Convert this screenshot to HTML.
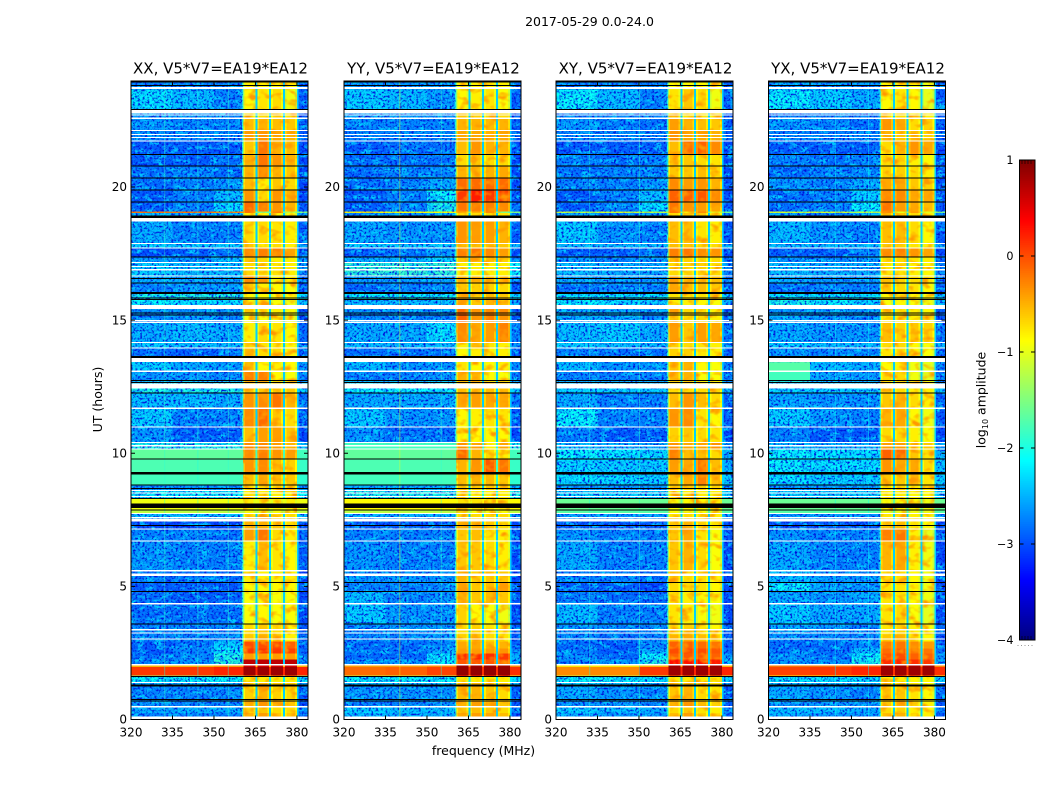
<!DOCTYPE html>
<html lang="en">
<head>
<meta charset="utf-8">
<title>2017-05-29 0.0-24.0</title>
<style>
html,body{margin:0;padding:0;background:#fff;}
#chart{display:block;width:1050px;height:800px;font-family:"DejaVu Sans","Liberation Sans",sans-serif;fill:#000;}
</style>
</head>
<body>
<svg id="chart" xmlns="http://www.w3.org/2000/svg" width="1050" height="800" viewBox="0 0 1050 800">
<defs>
<filter id="mottle-blue" x="0" y="0" width="100%" height="100%" color-interpolation-filters="sRGB">
<feTurbulence type="fractalNoise" baseFrequency="0.42 0.5" numOctaves="2" seed="4"/>
<feColorMatrix type="matrix" values="0 0 0 0 0  0 0 0 0 0.05  0 0 0 0 0.85  3.5 0 0 0 -1.65"/>
</filter>
<filter id="mottle-cyan" x="0" y="0" width="100%" height="100%" color-interpolation-filters="sRGB">
<feTurbulence type="fractalNoise" baseFrequency="0.11 0.22" numOctaves="3" seed="11"/>
<feColorMatrix type="matrix" values="0 0 0 0 0  0 0 0 0 0.8  0 0 0 0 1  3.5 0 0 0 -1.62"/>
</filter>
<filter id="mottle-band" x="0" y="0" width="100%" height="100%" color-interpolation-filters="sRGB">
<feTurbulence type="fractalNoise" baseFrequency="0.1 0.14" numOctaves="2" seed="7"/>
<feColorMatrix type="matrix" values="0 0 0 0 1  0 0 0 0 0.6  0 0 0 0 0  3.5 0 0 0 -1.72"/>
</filter>
</defs>
<text x="589.5" y="26" text-anchor="middle" font-size="12.5">2017-05-29 0.0-24.0</text>
<text x="483.5" y="755" text-anchor="middle" font-size="12.5">frequency (MHz)</text>
<text transform="translate(102,399.5) rotate(-90)" text-anchor="middle" font-size="12.5">UT (hours)</text>
<text transform="translate(985.5,400) rotate(-90)" text-anchor="middle" font-size="12.5">log<tspan font-size="8" dy="2.5">10</tspan><tspan dy="-2.5"> amplitude</tspan></text>
<g id="panels"></g>
<g id="colorbar"></g>
</svg>
<script>
// ---- axis categories and ticks ----
const xTicks = [320, 335, 350, 365, 380];
const yTicks = [0, 5, 10, 15, 20];
const cbarTicks = [1, 0, -1, -2, -3, -4];
const freqEdges = [320, 335, 350, 360.5];
const blockEdges = [[360.5, 365], [365.6, 370], [370.6, 375], [375.6, 380]];
const slitFreqs = [365, 370, 375, 380];
const slitLevel = -2.35;
const blockEdgeDrop = 0.22;
const panelNames = ['XX', 'YY', 'XY', 'YX'];

// ---- time edges of the heatmap rows (hours UT) ----
const timeEdges = [0,.25,.46,.7,1.24,1.4,1.6,1.65,1.97,2.05,2.25,2.48,2.67,2.93,3.2,3.56,4.32,4.8,5.12,5.6,6.7,7.13,7.44,7.72,7.85,8.3,8.58,8.78,9.21,9.76,10.14,10.38,10.96,11.67,12.24,12.7,13.06,13.42,13.93,14.14,14.9,15.25,15.41,15.75,15.98,16.38,16.63,17.14,17.35,17.68,17.85,18.7,18.85,19.03,19.07,19.41,19.86,20.32,20.76,21.2,21.7,22.1,22.56,22.9,23.67,23.92,24];

// ---- masked rows ----
const whiteGaps = [[0,.11],[.46,.04],[1.37,.04],[2.03,.05],[3,.04],[3.23,.04],[3.35,.04],[4.32,.05],[5.39,.1],[5.56,.05],[6.69,.04],[7.13,.05],[7.44,.1],[7.57,.04],[7.72,.04],[8.36,.04],[8.48,.04],[8.58,.04],[10.14,.04],[10.26,.04],[10.38,.04],[10.96,.04],[11.67,.04],[12.44,.18],[13.06,.04],[13.42,.16],[13.93,.04],[14.14,.04],[14.9,.04],[14.97,.04],[15.41,.16],[16.63,.04],[16.87,.04],[17,.04],[17.14,.04],[17.68,.04],[17.85,.04],[18.7,.13],[21.7,.04],[21.84,.04],[21.95,.04],[22.1,.04],[22.56,.04],[22.68,.04],[22.76,.14],[23.68,.07]];
const blackRows = [[.67,.04],[.73,.04],[1.24,.08],[1.59,.04],[3.56,.04],[4.79,.04],[5.12,.04],[7.27,.04],[7.84,.04],[7.95,.17],[8.28,.04],[8.65,.04],[8.78,.04],[9.21,.08],[9.76,.04],[12.24,.04],[12.64,.04],[12.71,.04],[13.58,.04],[13.62,.04],[15.17,.04],[15.25,.04],[15.75,.04],[15.81,.04],[15.98,.08],[16.38,.04],[16.55,.04],[17.35,.04],[18.83,.04],[18.88,.04],[19.41,.04],[19.86,.04],[20.32,.04],[20.76,.04],[21.2,.04],[22.89,.04],[23.79,.04],[23.92,.04]];

// ---- narrow-band interference channels per panel: [freq MHz, log10 level] ----
const rfiXX = [[332,-1.9],[344,-2],[355,-1.9]];
const rfiYY = [[340,-1],[355,-1.9]];
const rfiXY = [[332,-2],[350,-1.9]];
const rfiYX = [[344,-2.1],[356,-2.1]];

// ---- log10 amplitude per row: [320-335, 335-350, 350-360.5, block1, block2, block3, block4, 380-384] ----
const valuesXX = [
[-2.7,-2.7,-2.7,-.5,-.4,-.6,-.6,-2.9],[-2.5,-2.5,-2.5,-.7,-.6,-.7,-.7,-2.7],[-2.6,-2.7,-2.7,-.5,-.35,-.5,-.6,-2.9],[-2.7,-2.7,-2.7,-.65,-.5,-.65,-.7,-2.9],[-2.5,-2.5,-2.5,-.6,-.5,-.6,-.6,-2.7],[-2.1,-2.1,-2.1,-.8,-.8,-.8,-.8,-2.2],[-1.4,-1.4,-1.4,-.2,-.2,-.2,-.2,-1.4],[.1,.1,.2,.85,.85,.85,.85,.2],[-.5,-.5,-.4,.6,.6,.6,.6,-.5],
[-2.7,-2.6,-1.9,.7,.7,.7,.7,-2.6],[-2.8,-2.7,-2,-.4,-.4,-.4,-.4,-2.8],[-2.9,-2.7,-2.1,.1,.1,.1,.05,-2.8],[-2.9,-2.8,-2.3,0,0,0,-.1,-2.9],[-2.7,-2.7,-2.6,-.6,-.5,-.6,-.8,-2.9],[-2.7,-2.7,-2.7,-.7,-.6,-.7,-.85,-2.9],[-2.8,-2.8,-2.8,-.9,-.85,-.9,-.9,-3],[-2.8,-2.9,-2.9,-.9,-.85,-.9,-.9,-3],[-2.9,-2.9,-2.9,-.85,-.85,-.85,-.85,-3],[-2.8,-2.8,-2.8,-.8,-.8,-.8,-.8,-3],
[-2.6,-2.7,-2.7,-.8,-.55,-.75,-.85,-2.9],[-2.7,-2.7,-2.8,-.4,-.2,-.7,-.8,-2.9],[-3,-3,-3,-.5,-.5,-.6,-.7,-3],[-2.4,-2.4,-2.4,-.7,-.7,-.7,-.7,-2.4],[-1.2,-1.2,-1.2,-.9,-.9,-.9,-.9,-1.2],[-.95,-.95,-.95,-.8,-.8,-.8,-.8,-.95],[-2.1,-2.1,-2.1,-.8,-.8,-.8,-.8,-2.1],[-2.6,-2.6,-2.6,-.7,-.7,-.7,-.7,-2.6],[-1.8,-1.8,-1.8,-.55,-.45,-.55,-.6,-1.9],[-1.75,-1.75,-1.75,-.35,-.3,-.55,-.65,-1.85],
[-1.65,-1.65,-1.65,-.3,-.25,-.35,-.4,-1.8],[-2,-2,-2,-.3,-.3,-.4,-.5,-2.4],[-2.6,-2.9,-2.9,-.55,-.4,-.4,-.6,-3],[-2.3,-2.7,-2.7,-.3,-.15,-.6,-.7,-2.9],[-2.4,-2.4,-2.5,-.35,-.3,-.2,-.5,-2.8],[-2,-2,-2,-.6,-.6,-.6,-.6,-2.3],[-2.6,-2.6,-2.7,-.25,-.25,-.85,-.9,-2.8],[-2.3,-2.5,-2.6,-.55,-.85,-.8,-.85,-2.7],[-2.8,-2.9,-2.8,-.55,-.7,-.7,-.8,-2.9],[-2.3,-2.4,-2.4,-.7,-.75,-.75,-.85,-2.6],
[-2.5,-2.4,-2.5,-.8,-.7,-.75,-.85,-2.8],[-2.7,-2.6,-2.7,-.9,-.9,-.9,-.95,-2.9],[-2.6,-2.6,-2.6,-.6,-.7,-.8,-.9,-2.9],[-2.1,-2.2,-2.2,-.9,-.85,-.9,-.95,-2.4],[-2,-2,-2,-.85,-.85,-.85,-.85,-2.2],[-2.7,-2.6,-2.6,-.6,-.8,-.85,-.9,-2.9],[-2.5,-2.5,-2.5,-.3,-.35,-.8,-.8,-2.8],[-2.3,-2.4,-2.4,-.7,-.7,-.75,-.8,-2.6],[-2.6,-2.6,-2.4,-.6,-.7,-.8,-.8,-2.8],[-3,-2.9,-2.8,-.3,-.25,-.25,-.45,-3],
[-2.3,-2.3,-2.3,-.6,-.8,-.7,-.8,-2.5],[-2.5,-2.7,-2.7,-.7,-.7,-.75,-.8,-2.9],[-2.3,-2.3,-2.3,-.75,-.75,-.75,-.75,-2.5],[-2.4,-2.5,-2.4,-.8,-.85,-.85,-.9,-2.7],[-.2,-.2,-.3,-.2,-1.5,-.2,-1.2,-1.5],[-2.9,-2.7,-2.2,-.15,-.25,-.35,-.5,-2.9],[-2.9,-2.7,-2.4,-.35,-.7,-.35,-.5,-3],[-2.8,-2.7,-2.6,-.55,-.8,-.6,-.7,-3],[-2.8,-2.7,-2.8,-.5,-.3,-.5,-.6,-3],[-2.9,-2.9,-2.8,-.5,-.2,-.35,-.5,-3],
[-2.9,-2.9,-2.9,-.6,-.2,-.5,-.55,-3],[-2.7,-2.7,-2.7,-.4,-.35,-.45,-.5,-2.9],[-2.6,-2.7,-2.7,-.55,-.5,-.55,-.6,-2.9],[-2.6,-2.6,-2.7,-.7,-.7,-.7,-.75,-2.9],[-2.2,-2.4,-2.7,-.85,-.75,-.7,-.95,-2.9],[-2.7,-2.7,-2.7,-.8,-.8,-.8,-.8,-2.9],[-2.3,-2.3,-2.3,-.8,-.8,-.8,-.8,-2.6]
];
const valuesYY = [
[-2.5,-2.5,-2.5,-.45,-.4,-.45,-.55,-2.9],[-2.3,-2.4,-2.4,-.6,-.55,-.6,-.7,-2.7],[-2.7,-2.7,-2.6,-.5,-.4,-.55,-.6,-2.9],[-2.6,-2.6,-2.6,-.55,-.5,-.6,-.7,-2.9],[-2.4,-2.4,-2.4,-.5,-.5,-.55,-.6,-2.7],[-2.1,-2.1,-2.1,-.8,-.8,-.8,-.8,-2.2],[-1.2,-1.2,-1.2,.2,.2,.2,.2,-1],[-.15,-.1,.05,.9,.9,.9,.9,.15],[-.4,-.4,-.3,.85,.85,.85,.85,-.3],
[-2.7,-2.6,-2.1,-.05,-.05,-.05,-.1,-2.5],[-2.8,-2.8,-2.2,.15,.2,.15,.1,-2.5],[-2.8,-2.8,-2.6,-.4,-.4,-.4,-.35,-2.7],[-2.8,-2.8,-2.7,-.45,-.45,-.55,-.5,-2.9],[-2.7,-2.7,-2.6,-.65,-.6,-.7,-.75,-2.9],[-2.7,-2.6,-2.6,-.7,-.65,-.75,-.8,-2.9],[-2.3,-2.6,-2.6,-.65,-.85,-.9,-.95,-3],[-2.4,-2.7,-2.6,-.5,-.6,-.55,-.6,-3],[-2.7,-2.7,-2.7,-.45,-.6,-.55,-.4,-3],[-2.6,-2.6,-2.6,-.5,-.65,-.6,-.6,-3],
[-2.6,-2.7,-2.7,-.6,-.6,-.7,-.8,-3],[-2.7,-2.7,-2.7,-.6,-.55,-.75,-.8,-2.9],[-2.9,-2.9,-2.9,-.5,-.5,-.6,-.7,-3],[-2.5,-2.5,-2.5,-.7,-.7,-.7,-.7,-2.6],[-1.2,-1.2,-1.2,-.9,-.9,-.9,-.9,-1.2],[-.85,-.85,-.85,-.75,-.75,-.75,-.75,-.85],[-2,-2,-2,-.8,-.8,-.8,-.8,-2],[-2.5,-2.5,-2.5,-.6,-.6,-.6,-.6,-2.5],[-1.8,-1.8,-1.8,-.55,-.5,-.55,-.6,-1.9],[-1.75,-1.75,-1.75,-.5,-.35,-.05,-.2,-1.85],
[-1.65,-1.65,-1.65,-.15,-.5,-.7,-.8,-1.8],[-1.8,-1.8,-1.8,-.35,-.45,-.8,-.45,-2],[-2.6,-2.8,-2.8,-.85,-.85,-.85,-.85,-3],[-2.3,-2.6,-2.6,-.85,-.8,-.75,-.75,-2.9],[-2.5,-2.5,-2.5,-.45,-.4,-.45,-.45,-2.8],[-2.1,-2.1,-2.1,-.55,-.55,-.55,-.55,-2.3],[-2.7,-2.7,-2.6,-.5,-.55,-.85,-.9,-2.8],[-2.4,-2.6,-2.6,-.75,-.85,-.85,-.8,-2.7],[-2.8,-2.8,-2.8,-.85,-.8,-.8,-.8,-2.9],[-2.4,-2.4,-2.4,-.8,-.75,-.75,-.8,-2.6],
[-2.5,-2.5,-2.2,-.3,-.45,-.4,-.25,-2.7],[-2.7,-2.7,-2.7,-.1,-.35,-.25,-.35,-2.9],[-2.6,-2.6,-2.6,-.15,-.35,-.3,-.3,-2.9],[-2.4,-2.4,-2.4,-.45,-.6,-.5,-.6,-2.5],[-2.1,-2.1,-2.1,-.5,-.65,-.55,-.6,-2.3],[-2.8,-2.7,-2.7,-.6,-.65,-.65,-.7,-2.9],[-2.6,-2.6,-2.5,-.5,-.5,-.55,-.6,-2.8],[-1.9,-1.9,-1.9,-.8,-.8,-.8,-.8,-2.1],[-2.5,-2.5,-2.3,-.6,-.6,-.6,-.65,-2.8],[-2.9,-2.8,-2.6,-.25,-.2,-.3,-.4,-3],
[-2.3,-2.3,-2.3,-.55,-.55,-.6,-.6,-2.5],[-2.5,-2.6,-2.6,-.35,-.4,-.4,-.5,-2.9],[-1.9,-1.9,-1.9,-.6,-.6,-.6,-.6,-2.2],[-2.7,-2.6,-2.4,-.7,-.7,-.7,-.75,-2.7],[-.8,-.9,-.9,-.5,-.5,-.3,-1.5,-1.5],[-2.9,-2.7,-2,-.2,-.25,-.25,-.3,-2.8],[-2.9,-2.7,-2.1,.1,.25,.1,.05,-2.9],[-2.8,-2.7,-2.5,-.15,-.15,-.15,-.15,-3],[-2.8,-2.7,-2.7,-.5,-.55,-.5,-.45,-3],[-2.8,-2.8,-2.8,-.7,-.6,-.7,-.7,-3],
[-2.9,-2.8,-2.8,-.55,-.35,-.5,-.5,-3],[-2.7,-2.7,-2.7,-.45,-.45,-.5,-.45,-2.9],[-2.7,-2.7,-2.7,-.5,-.5,-.55,-.5,-2.9],[-2.6,-2.6,-2.6,-.6,-.65,-.7,-.7,-2.9],[-2.3,-2.4,-2.6,-.85,-.8,-.75,-.9,-2.9],[-2.6,-2.6,-2.6,-.8,-.8,-.8,-.8,-2.9],[-2.2,-2.2,-2.2,-.8,-.8,-.8,-.8,-2.6]
];
const valuesXY = [
[-2.5,-2.6,-2.6,-.55,-.4,-.65,-.7,-2.9],[-2.3,-2.4,-2.5,-.7,-.6,-.75,-.8,-2.7],[-2.6,-2.6,-2.7,-.5,-.35,-.55,-.65,-2.9],[-2.5,-2.6,-2.7,-.6,-.5,-.7,-.75,-2.9],[-2.3,-2.4,-2.5,-.6,-.55,-.7,-.7,-2.7],[-2.1,-2.1,-2.2,-.8,-.8,-.8,-.8,-2.3],[-1.2,-1.2,-1.2,-.1,-.1,-.1,-.1,-1.2],[-.3,-.3,.1,.85,.85,.85,.85,.2],[-.75,-.75,-.5,.85,.85,.85,.85,-.5],
[-2.7,-2.6,-1.9,.3,.3,.3,.25,-2.4],[-2.6,-2.8,-2.1,-.1,-.05,-.05,-.1,-2.6],[-2.8,-2.9,-2.5,0,0,0,-.05,-2.8],[-2.8,-2.9,-2.7,-.1,-.1,-.15,-.2,-2.9],[-2.7,-2.8,-2.7,-.5,-.45,-.55,-.7,-2.9],[-2.6,-2.7,-2.7,-.75,-.65,-.75,-.85,-2.9],[-2.4,-2.7,-2.7,-.75,-.8,-.9,-.95,-3],[-2.7,-2.8,-2.8,-.75,-.8,-.85,-.9,-3],[-2.9,-2.9,-3,-.7,-.7,-.75,-.85,-3],[-2.7,-2.7,-2.8,-.6,-.7,-.7,-.85,-3],
[-2.5,-2.7,-2.7,-.6,-.5,-.7,-.9,-3],[-2.6,-2.7,-2.7,-.6,-.45,-.75,-.9,-2.9],[-2.9,-2.9,-2.9,-.6,-.5,-.65,-.75,-3],[-2.6,-2.6,-2.6,-.75,-.7,-.75,-.8,-2.6],[-1.7,-1.7,-1.7,-.9,-.9,-.9,-.9,-1.7],[-1.6,-1.6,-1.6,-.9,-.85,-.85,-.85,-1.6],[-2.3,-2.3,-2.3,-.8,-.8,-.8,-.8,-2.3],[-2.6,-2.6,-2.6,-.65,-.65,-.65,-.65,-2.6],[-2.2,-2.25,-2.3,-.55,-.45,-.25,-.55,-2.3],[-2.25,-2.3,-2.3,-.4,-.45,-.2,-.55,-2.5],
[-2.1,-2.15,-2.2,-.25,-.55,-.55,-.7,-2.5],[-2.4,-2.5,-2.5,-.35,-.45,-.45,-.35,-2.6],[-2.7,-2.9,-2.9,-.65,-.6,-.7,-.75,-3],[-2.1,-2.7,-2.7,-.35,-.3,-.75,-.85,-2.9],[-2.5,-2.7,-2.7,-.55,-.35,-.55,-.7,-2.9],[-2.3,-2.3,-2.3,-.7,-.7,-.7,-.7,-2.5],[-2.7,-2.7,-2.7,-.55,-.5,-.9,-.9,-2.8],[-2.4,-2.6,-2.6,-.6,-.5,-.85,-.9,-2.7],[-2.7,-2.8,-2.8,-.65,-.65,-.75,-.8,-2.9],[-2.3,-2.4,-2.4,-.65,-.7,-.75,-.8,-2.6],
[-2.4,-2.3,-2.5,-.4,-.6,-.4,-.45,-2.8],[-2.5,-2.5,-2.7,-.6,-.7,-.7,-.8,-2.9],[-2.5,-2.5,-2.6,-.4,-.7,-.7,-.8,-2.9],[-2.1,-2.2,-2.3,-.8,-.8,-.85,-.9,-2.5],[-2.2,-2.2,-2.2,-.75,-.75,-.75,-.8,-2.3],[-2.8,-2.7,-2.7,-.45,-.55,-.55,-.6,-2.9],[-2.5,-2.6,-2.6,-.4,-.5,-.55,-.55,-2.8],[-2.4,-2.5,-2.5,-.7,-.7,-.65,-.7,-2.7],[-2.6,-2.7,-2.6,-.6,-.65,-.7,-.7,-2.9],[-2.9,-2.9,-2.8,-.25,-.2,-.3,-.35,-3],
[-2.4,-2.4,-2.4,-.55,-.6,-.7,-.7,-2.6],[-2.3,-2.6,-2.7,-.55,-.55,-.75,-.8,-2.9],[-2.3,-2.3,-2.3,-.7,-.7,-.7,-.7,-2.5],[-2.5,-2.7,-2.5,-.7,-.6,-.6,-.7,-2.7],[-1.2,-1.1,-1.2,-.2,-.9,-.3,-1,-1.5],[-2.9,-2.7,-2.2,-.2,-.35,-.4,-.45,-2.9],[-2.9,-2.7,-2.4,-.1,-.1,-.05,-.3,-3],[-2.7,-2.7,-2.6,-.3,-.4,-.35,-.5,-3],[-2.8,-2.7,-2.7,-.6,-.6,-.55,-.7,-3],[-2.7,-2.8,-2.7,-.6,-.6,-.7,-.75,-3],
[-2.9,-2.9,-2.9,-.55,-.15,-.1,-.3,-3],[-2.7,-2.7,-2.7,-.35,-.45,-.45,-.5,-2.9],[-2.6,-2.7,-2.8,-.4,-.5,-.55,-.6,-2.9],[-2.7,-2.7,-2.7,-.75,-.75,-.75,-.75,-2.9],[-2.1,-2.4,-2.7,-.75,-.6,-.7,-.95,-2.9],[-2.7,-2.7,-2.7,-.85,-.85,-.85,-.9,-2.9],[-2.2,-2.2,-2.2,-.85,-.85,-.85,-.9,-2.6]
];
const valuesYX = [
[-2.5,-2.6,-2.6,-.55,-.5,-.7,-.8,-2.9],[-2.4,-2.4,-2.5,-.7,-.65,-.8,-.85,-2.7],[-2.6,-2.6,-2.6,-.6,-.5,-.7,-.8,-2.9],[-2.5,-2.6,-2.7,-.6,-.6,-.75,-.85,-2.9],[-2.4,-2.4,-2.5,-.65,-.65,-.75,-.85,-2.7],[-2.2,-2.2,-2.2,-.8,-.8,-.85,-.85,-2.3],[-.9,-.9,-.9,.1,.1,.1,.1,-.9],[.05,.1,.2,.85,.85,.85,.85,.15],[-.2,-.2,-.1,.8,.8,.8,.8,-.3],
[-2.6,-2.6,-2,.15,.2,.15,.1,-2.5],[-2.6,-2.8,-2.1,-.05,0,-.1,-.1,-2.6],[-2.8,-2.8,-2.4,-.15,-.1,-.2,-.2,-2.8],[-2.8,-2.8,-2.7,-.25,-.2,-.3,-.4,-2.9],[-2.7,-2.7,-2.7,-.6,-.5,-.7,-.85,-2.9],[-2.5,-2.6,-2.7,-.75,-.65,-.8,-.9,-2.9],[-2.3,-2.5,-2.5,-.75,-.7,-.9,-1,-3],[-2.5,-2.6,-2.5,-.75,-.75,-.85,-.95,-3],[-2.1,-2.5,-2.6,-.75,-.75,-.85,-.95,-3],[-2.4,-2.6,-2.6,-.7,-.7,-.85,-.95,-3],
[-2.5,-2.7,-2.7,-.5,-.45,-.8,-.95,-3],[-2.6,-2.7,-2.7,-.25,-.2,-.8,-1,-2.9],[-2.9,-2.9,-2.9,-.6,-.55,-.75,-.85,-3],[-2.6,-2.6,-2.6,-.75,-.75,-.8,-.85,-2.6],[-1.7,-1.7,-1.7,-.95,-.95,-.95,-.95,-1.7],[-1.6,-1.6,-1.6,-.9,-.9,-.9,-.95,-1.6],[-2.3,-2.3,-2.3,-.8,-.8,-.85,-.85,-2.3],[-2.6,-2.6,-2.6,-.7,-.7,-.75,-.75,-2.6],[-2.2,-2.3,-2.3,-.6,-.6,-.5,-.75,-2.3],[-2.1,-2.2,-2.2,-.35,-.45,-.45,-.7,-2.4],
[-2.1,-2.15,-2.2,-.1,-.15,-.6,-.75,-2.5],[-2.4,-2.5,-2.5,-.4,-.4,-.65,-.6,-2.6],[-2.7,-2.9,-2.9,-.7,-.7,-.8,-.9,-3],[-2.3,-2.6,-2.7,-.5,-.45,-.85,-.95,-2.9],[-2.5,-2.6,-2.6,-.6,-.5,-.7,-.8,-2.9],[-2.3,-2.3,-2.3,-.7,-.7,-.8,-.8,-2.5],[-1.8,-2.5,-2.6,-.7,-.7,-.95,-1,-2.8],[-1.7,-2.4,-2.5,-.85,-.8,-.95,-1,-2.7],[-2.6,-2.7,-2.7,-.75,-.7,-.85,-.9,-2.9],[-2.3,-2.4,-2.4,-.7,-.7,-.85,-.9,-2.6],
[-2.5,-2.6,-2.6,-.55,-.65,-.6,-.65,-2.8],[-2.5,-2.6,-2.7,-.75,-.8,-.8,-.85,-2.9],[-2.6,-2.6,-2.6,-.6,-.75,-.8,-.85,-2.9],[-2,-2.1,-2.3,-.9,-.85,-.9,-.95,-2.5],[-2.2,-2.2,-2.2,-.85,-.85,-.85,-.9,-2.4],[-2.8,-2.7,-2.7,-.6,-.7,-.75,-.85,-2.9],[-2.5,-2.6,-2.6,-.55,-.65,-.7,-.75,-2.8],[-2.4,-2.5,-2.5,-.75,-.75,-.8,-.85,-2.7],[-2.6,-2.7,-2.6,-.7,-.7,-.75,-.8,-2.9],[-2.9,-2.9,-2.7,-.3,-.25,-.35,-.45,-3],
[-2.4,-2.4,-2.4,-.6,-.65,-.75,-.8,-2.6],[-2.4,-2.6,-2.7,-.55,-.55,-.7,-.85,-2.9],[-2.3,-2.3,-2.3,-.7,-.7,-.75,-.8,-2.5],[-2.5,-2.7,-2.4,-.55,-.6,-.7,-.8,-2.7],[-1.1,-1.1,-1.2,-.3,-1,-.4,-1,-1.5],[-2.8,-2.7,-2.1,-.2,-.4,-.45,-.55,-2.9],[-2.8,-2.7,-2.3,-.3,-.3,-.45,-.45,-3],[-2.6,-2.7,-2.5,-.45,-.45,-.6,-.65,-3],[-2.8,-2.7,-2.7,-.65,-.65,-.7,-.8,-3],[-2.7,-2.8,-2.7,-.7,-.7,-.8,-.85,-3],
[-2.9,-2.9,-2.9,-.7,-.5,-.35,-.45,-3],[-2.7,-2.7,-2.7,-.5,-.6,-.55,-.65,-2.9],[-2.6,-2.7,-2.8,-.35,-.45,-.7,-.65,-2.9],[-2.7,-2.7,-2.7,-.7,-.7,-.8,-.8,-2.9],[-2.1,-2.3,-2.5,-.85,-.75,-.85,-1,-2.9],[-2.6,-2.6,-2.6,-.85,-.85,-.9,-.95,-2.9],[-2.2,-2.2,-2.2,-.85,-.85,-.9,-.95,-2.6]
];

const panelValues = [valuesXX, valuesYY, valuesXY, valuesYX];
const panelRfi = [rfiXX, rfiYY, rfiXY, rfiYX];

// ---- layout (not data) ----
const panelLeft = [131, 344, 556, 768.5];
const panelWidth = 177;
const plotTop = 81;
const plotBottom = 719.5;
const freqMin = 320, freqMax = 384;
const timeMin = 0, timeMax = 23.98;
const cbarX = 1019.5, cbarW = 15.5, cbarTop = 160, cbarBottom = 640;
const SVGNS = 'http://www.w3.org/2000/svg';

function xScale(p, f) { return panelLeft[p] + (f - freqMin) / (freqMax - freqMin) * panelWidth; }
function yScale(t) { return plotBottom - (t - timeMin) / (timeMax - timeMin) * (plotBottom - plotTop); }
function levelScale(v) { return cbarBottom - (v + 4) / 5 * (cbarBottom - cbarTop); }

function jet(level) {
  const x = Math.max(0, Math.min(1, (level + 4) / 5));
  const seg = (c) => Math.round(255 * Math.max(0, Math.min(1, c)));
  const r = seg(Math.min(4 * x - 1.5, -4 * x + 4.5));
  const g = seg(Math.min(4 * x - 0.5, -4 * x + 3.5));
  const b = seg(Math.min(4 * x + 0.5, -4 * x + 2.5));
  return 'rgb(' + r + ',' + g + ',' + b + ')';
}
function make(tag, parent, attrs) {
  const el = document.createElementNS(SVGNS, tag);
  for (const k in attrs) el.setAttribute(k, attrs[k]);
  parent.appendChild(el);
  return el;
}
function cell(parent, p, f0, f1, t0, t1, level) {
  const x0 = xScale(p, f0), x1 = xScale(p, f1), y0 = yScale(t1), y1 = yScale(t0);
  const rect = make('rect', parent, { x: x0, y: y0, width: Math.max(0.5, x1 - x0), height: Math.max(0.5, y1 - y0), fill: jet(level), 'shape-rendering': 'crispEdges' });
  
  
  return rect;
}

const panelsRoot = document.getElementById('panels');
panelNames.forEach(function (name, p) {
  const values = panelValues[p];
  const g = make('g', panelsRoot, {});
  
  
  const clipAll = make('clipPath', g, { id: 'clip-all-' + p });
  make('rect', clipAll, { x: panelLeft[p], y: plotTop, width: panelWidth, height: plotBottom - plotTop });

  const cells = make('g', g, { 'clip-path': 'url(#clip-all-' + p + ')' });
  
  
  const clipBg = make('clipPath', g, { id: 'clip-bg-' + p });
  const clipBand = make('clipPath', g, { id: 'clip-band-' + p });

  values.forEach(function (row, i) {
    const t0 = timeEdges[i], t1 = timeEdges[i + 1];
    for (let c = 0; c < 3; c++) {
      cell(cells, p, freqEdges[c], freqEdges[c + 1], t0, t1, row[c]);
      if (row[c] < -1.85) {
        make('rect', clipBg, { x: xScale(p, freqEdges[c]), y: yScale(t1), width: xScale(p, freqEdges[c + 1]) - xScale(p, freqEdges[c]) - (c === 2 ? 0.3 : 0), height: yScale(t0) - yScale(t1) });
      }
    }
    blockEdges.forEach(function (b, k) {
      const v = row[3 + k];
      const drop = v > 0.5 ? 0 : blockEdgeDrop;
      cell(cells, p, b[0], b[1], t0, t1, v - drop);
      cell(cells, p, b[0] + 0.7, b[1] - 0.7, t0, t1, v);
    });
    cell(cells, p, freqEdges[3] - 0.4, freqEdges[3] + 0.1, t0, t1, Math.max(row[2], -1.9));
    slitFreqs.forEach(function (f) {
      cell(cells, p, f - 0.05, f + 0.65, t0, t1, Math.max(slitLevel, row[7]));
    });
    cell(cells, p, 380.6, freqMax, t0, t1, row[7]);
    if (row[7] < -1.95) {
      make('rect', clipBg, { x: xScale(p, 380.7), y: yScale(t1), width: xScale(p, 384) - xScale(p, 380.7), height: yScale(t0) - yScale(t1) });
    }
    if (row[3] <= 0.5) {
      blockEdges.forEach(function (b) {
        make('rect', clipBand, { x: xScale(p, b[0]), y: yScale(t1), width: xScale(p, b[1]) - xScale(p, b[0]), height: yScale(t0) - yScale(t1) });
      });
    }
  });

  const tex = make('g', g, { 'clip-path': 'url(#clip-bg-' + p + ')' });
  
  
  make('rect', tex, { x: panelLeft[p], y: plotTop, width: panelWidth, height: plotBottom - plotTop, filter: 'url(#mottle-cyan)' });
  make('rect', tex, { x: panelLeft[p], y: plotTop, width: panelWidth, height: plotBottom - plotTop, filter: 'url(#mottle-blue)' });
  const texBand = make('g', g, { 'clip-path': 'url(#clip-band-' + p + ')' });
  
  
  make('rect', texBand, { x: panelLeft[p], y: plotTop, width: panelWidth, height: plotBottom - plotTop, filter: 'url(#mottle-band)' });

  panelRfi[p].forEach(function (r) {
    const line = make('rect', g, { x: xScale(p, r[0]), y: plotTop, width: 1, height: plotBottom - plotTop, fill: jet(r[1]), opacity: 0.45 });
    
    
  });

  whiteGaps.forEach(function (m) {
    const gap = make('rect', g, { x: panelLeft[p], y: yScale(m[0] + m[1]), width: panelWidth, height: Math.max(1, yScale(m[0]) - yScale(m[0] + m[1])), fill: '#fff', 'shape-rendering': 'crispEdges' });
    
    
  });
  blackRows.forEach(function (m) {
    const bar = make('rect', g, { x: panelLeft[p], y: yScale(m[0] + m[1]), width: panelWidth, height: Math.max(1, yScale(m[0]) - yScale(m[0] + m[1])), fill: '#000', 'shape-rendering': 'crispEdges' });
    
    
  });

  const frame = make('rect', g, { x: panelLeft[p], y: plotTop, width: panelWidth, height: plotBottom - plotTop, fill: 'none', stroke: '#000', 'stroke-width': 1 });
  
  

  const title = make('text', g, { x: panelLeft[p] + panelWidth / 2 + 1, y: 73.5, 'text-anchor': 'middle', 'font-size': 15 });
  title.textContent = name + ', V5*V7=EA19*EA12';
  
  

  xTicks.forEach(function (f) {
    const x = xScale(p, f);
    const tick = make('path', g, { d: 'M' + x + ' ' + plotBottom + 'v-4M' + x + ' ' + plotTop + 'v4', stroke: '#000', fill: 'none' });
    
    
    const label = make('text', g, { x: x, y: 736.5, 'text-anchor': 'middle', 'font-size': 12 });
    label.textContent = f;
    
    
  });
  yTicks.forEach(function (t) {
    const y = yScale(t);
    const x0 = panelLeft[p], x1 = x0 + panelWidth;
    const tick = make('path', g, { d: 'M' + x0 + ' ' + y + 'h4M' + x1 + ' ' + y + 'h-4', stroke: '#000', fill: 'none' });
    
    
    const label = make('text', g, { x: x0 - 4, y: y + 4.2, 'text-anchor': 'end', 'font-size': 12 });
    label.textContent = t;
    
    
  });
});

// ---- colorbar ----
const cbarRoot = document.getElementById('colorbar');
for (let i = 0; i < 256; i++) {
  const v0 = -4 + 5 * i / 256, v1 = -4 + 5 * (i + 1) / 256;
  const seg = make('rect', cbarRoot, { x: cbarX, y: levelScale(v1), width: cbarW, height: levelScale(v0) - levelScale(v1) + 0.4, fill: jet((v0 + v1) / 2) });
  
  
}
const cbarFrame = make('rect', cbarRoot, { x: cbarX, y: cbarTop, width: cbarW, height: cbarBottom - cbarTop, fill: 'none', stroke: '#000', 'stroke-width': 1 });


cbarTicks.forEach(function (v) {
  const y = levelScale(v);
  const tick = make('path', cbarRoot, { d: 'M' + cbarX + ' ' + y + 'h4M' + (cbarX + cbarW) + ' ' + y + 'h-4', stroke: '#000', fill: 'none' });
  
  
  const label = make('text', cbarRoot, { x: 1013.5, y: y + 4, 'text-anchor': 'end', 'font-size': 11.2 });
  label.textContent = String(v).replace('-', '\u2212');
  
  
});
[1022, 1025, 1028, 1031].forEach(function (x) {
  const tic = make('path', cbarRoot, { d: 'M' + x + ' ' + cbarTop + 'v4M' + x + ' ' + cbarBottom + 'v-4', stroke: '#000', 'stroke-width': 0.6, fill: 'none' });
  
  
});
const dots = make('path', cbarRoot, { d: 'M1017.5 645.5H1035', stroke: '#999', 'stroke-width': 1, 'stroke-dasharray': '1 2.5', fill: 'none' });


</script>
</body>
</html>
